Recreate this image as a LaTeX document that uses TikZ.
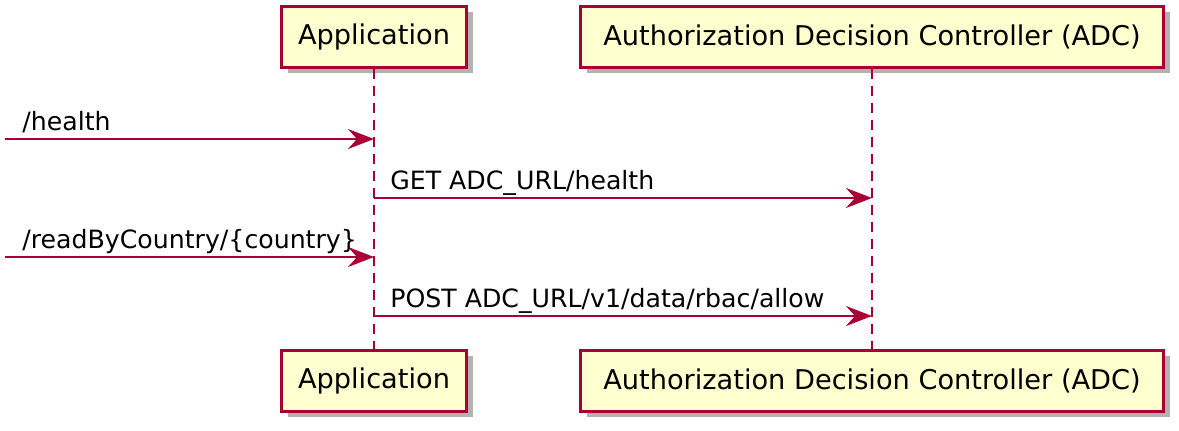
\documentclass[tikz,border=0pt]{standalone}
\usepackage{fontspec}
\setmainfont{DejaVu Sans}
\usetikzlibrary{arrows.meta,shadows}
\definecolor{pbord}{HTML}{A80036}
\definecolor{pfill}{HTML}{FEFECE}
\tikzset{
  part/.style={draw=pbord, fill=pfill, line width=1.5pt, minimum height=30.5pt,
    inner sep=0pt, font=\fontsize{13.6}{16}\selectfont,
    drop shadow={shadow xshift=3pt, shadow yshift=-3pt, fill=black, opacity=0.3}},
  life/.style={draw=pbord, line width=1pt, dash pattern=on 5pt off 3.5pt},
  msg/.style={draw=pbord, line width=1pt, -{Stealth[length=13pt, width=10pt, inset=4.5pt]}},
  lbl/.style={anchor=base west, inner sep=0pt, font=\fontsize{12.6}{15}\selectfont}
}
\begin{document}
\begin{tikzpicture}[x=0.5pt, y=-0.5pt]
\useasboundingbox (0,0) rectangle (1179,430);
\node[part, minimum width=92.5pt] (appTop) at (374,36.5) {Application};
\node[part, minimum width=291.5pt] (adcTop) at (872,36.5) {Authorization Decision Controller (ADC)};
\node[part, minimum width=92.5pt] (appBot) at (374,380.5) {Application};
\node[part, minimum width=291.5pt] (adcBot) at (872,380.5) {Authorization Decision Controller (ADC)};
\draw[life] (appTop.south) -- (appBot.north);
\draw[life] (adcTop.south) -- (adcBot.north);
\coordinate (s1) at (5,139);
\coordinate (s3) at (5,257);
\path (appTop.south) ++(0,129.5) coordinate (a2);
\path (appTop.south) ++(0,247.5) coordinate (a4);
\draw[msg] (s1) -- (s1 -| appTop.south);
\draw[msg] (a2) -- (a2 -| adcTop.south);
\draw[msg] (s3) -- (s3 -| appTop.south);
\draw[msg] (a4) -- (a4 -| adcTop.south);
\node[lbl] (l1) at (22,130) {/health};
\node[lbl] (l2) at (390,189) {GET ADC\_URL/health};
\node[lbl] (l3) at (22,248) {/readByCountry/\{country\}};
\node[lbl] (l4) at (390,307) {POST ADC\_URL/v1/data/rbac/allow};
\end{tikzpicture}
\end{document}
